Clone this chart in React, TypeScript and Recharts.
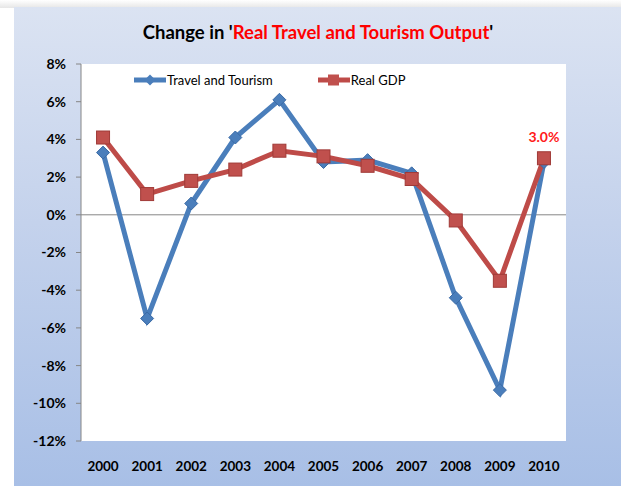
import React from 'react';
import {
  LineChart,
  Line,
  XAxis,
  YAxis,
  CartesianGrid,
  ReferenceLine,
  LabelList,
} from 'recharts';

const YEARS = ['2000', '2001', '2002', '2003', '2004', '2005', '2006', '2007', '2008', '2009', '2010'];
const TRAVEL = [3.3, -5.5, 0.6, 4.1, 6.1, 2.8, 2.9, 2.2, -4.4, -9.3, 2.8];
const GDP = [4.1, 1.1, 1.8, 2.4, 3.4, 3.1, 2.6, 1.9, -0.3, -3.5, 3.0];
const Y_TICKS = [-12, -10, -8, -6, -4, -2, 0, 2, 4, 6, 8];

const BLUE = '#4a7ebb';
const RED = '#be4b48';
const FONT = 'Lato, "Open Sans", sans-serif';

const data = YEARS.map((year, i) => ({ year, travel: TRAVEL[i], gdp: GDP[i] }));

const Diamond = (props: any) => {
  const { cx, cy, index } = props;
  if (cx == null || cy == null) return <g key={`d-${index}`} />;
  const r = 6.5;
  return (
    <path
      key={`d-${index}`}
      d={`M${cx},${cy - r} L${cx + r},${cy} L${cx},${cy + r} L${cx - r},${cy} Z`}
      fill={BLUE}
      stroke="#3a6aa5"
      strokeWidth={1}
    />
  );
};

const Square = (props: any) => {
  const { cx, cy, index } = props;
  if (cx == null || cy == null) return <g key={`s-${index}`} />;
  const r = 6.5;
  return (
    <rect
      key={`s-${index}`}
      x={cx - r}
      y={cy - r}
      width={r * 2}
      height={r * 2}
      fill="#c0504d"
      stroke="#a03a37"
      strokeWidth={1}
    />
  );
};

// legend sits inside the plot, drawn as an overlay so it doesn't push the plot down
const ChartLegend = () => (
  <div
    style={{
      position: 'absolute',
      left: 134,
      top: 72,
      display: 'flex',
      alignItems: 'center',
      fontFamily: FONT,
      fontSize: 13,
      color: '#000',
    }}
  >
    <svg width={32} height={12} style={{ marginRight: 1 }}>
      <line x1={0} y1={6} x2={32} y2={6} stroke={BLUE} strokeWidth={5} />
      <path d="M16,0.5 L21.5,6 L16,11.5 L10.5,6 Z" fill={BLUE} />
    </svg>
    <span>Travel and Tourism</span>
    <svg width={32} height={12} style={{ marginLeft: 45, marginRight: 1 }}>
      <line x1={0} y1={6} x2={32} y2={6} stroke={RED} strokeWidth={5} />
      <rect x={10} y={0.5} width={11} height={11} fill="#c0504d" />
    </svg>
    <span>Real GDP</span>
  </div>
);

const LastLabel = (props: any) => {
  const { x, y, index, value } = props;
  if (index !== YEARS.length - 1) return null;
  return (
    <text
      x={x}
      y={y - 16}
      textAnchor="middle"
      fill="#ff1a1a"
      fontFamily={FONT}
      fontWeight={700}
      fontSize={14}
    >
      {`${Number(value).toFixed(1)}%`}
    </text>
  );
};

export default function App() {
  return (
    <div style={{ position: 'absolute', left: 0, top: 0, width: 621, height: 486, background: '#fff', overflow: 'hidden' }}>
      <div
        style={{
          position: 'absolute',
          left: 0,
          top: 0,
          width: 621,
          height: 8,
          background: 'linear-gradient(to bottom, #ffffff, #e6e6e6)',
        }}
      />
      <div
        style={{
          position: 'absolute',
          left: 14,
          top: 7,
          width: 607,
          height: 479,
          background: 'linear-gradient(to bottom, #dbe3f2 0%, #c4d2ec 45%, #a8bfe6 100%)',
        }}
      />
      <div
        style={{
          position: 'absolute',
          left: 0,
          top: 21,
          width: 636,
          textAlign: 'center',
          fontFamily: FONT,
          fontWeight: 700,
          fontSize: 18.5,
          color: '#000',
        }}
      >
        Change in '<span style={{ color: '#ff0000' }}>Real Travel and Tourism Output</span>'
      </div>
      <div style={{ position: 'absolute', left: 0, top: 0 }}>
        <LineChart width={621} height={486} data={data} margin={{ top: 64, right: 55, bottom: 0, left: 0 }}>
          <CartesianGrid fill="#ffffff" stroke="none" horizontal={false} vertical={false} />
          <XAxis
            dataKey="year"
            scale="band"
            axisLine={false}
            tickLine={false}
            height={45}
            tickMargin={14}
            tick={{ fill: '#000', fontFamily: FONT, fontWeight: 700, fontSize: 13.5 }}
            interval={0}
          />
          <YAxis
            domain={[-12, 8]}
            ticks={Y_TICKS}
            width={81}
            tickSize={5}
            tickMargin={10}
            axisLine={{ stroke: '#868686' }}
            tickLine={{ stroke: '#868686' }}
            tickFormatter={(v: number) => `${v}%`}
            tick={{ fill: '#000', fontFamily: FONT, fontWeight: 700, fontSize: 14 }}
            interval={0}
          />
          <ReferenceLine y={0} stroke="#868686" strokeWidth={1} />
          <Line
            dataKey="travel"
            name="Travel and Tourism"
            stroke={BLUE}
            strokeWidth={5}
            dot={Diamond}
            activeDot={false}
            isAnimationActive={false}
          />
          <Line
            dataKey="gdp"
            name="Real GDP"
            stroke={RED}
            strokeWidth={5}
            dot={Square}
            activeDot={false}
            isAnimationActive={false}
          >
            <LabelList dataKey="gdp" content={LastLabel} />
          </Line>
        </LineChart>
      </div>
      <ChartLegend />
    </div>
  );
}
